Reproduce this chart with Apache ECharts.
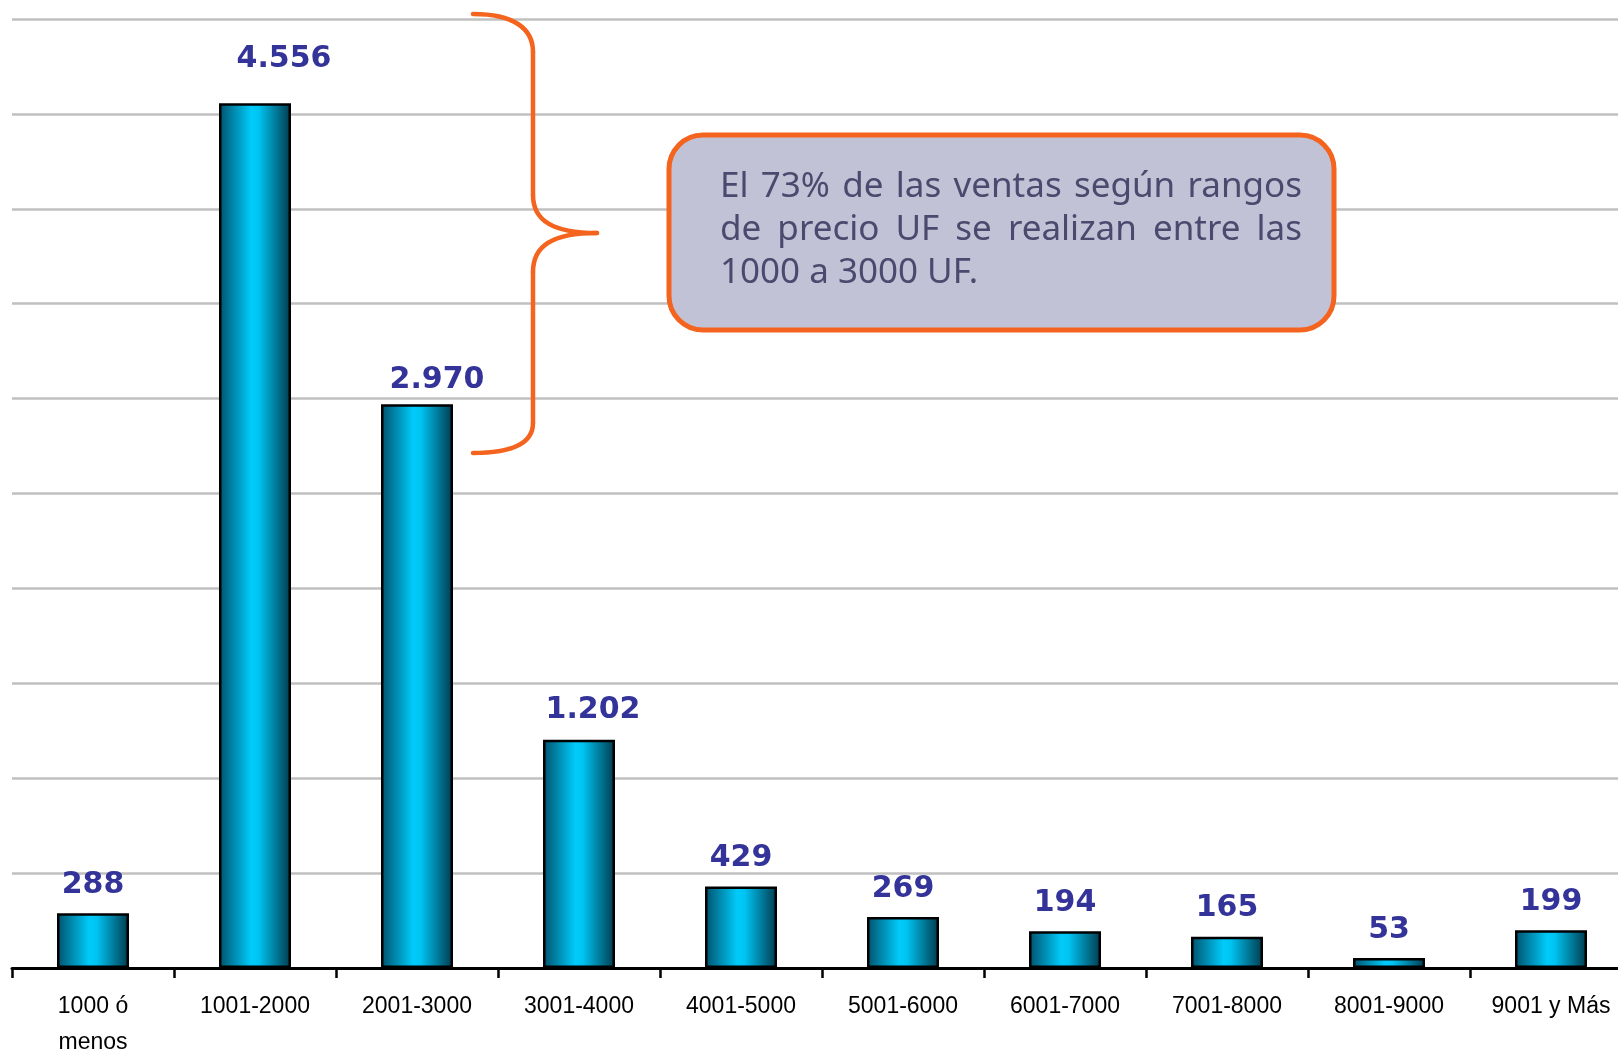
<!DOCTYPE html>
<html>
<head>
<meta charset="utf-8">
<script src="https://cdn.jsdelivr.net/npm/echarts@6/dist/echarts.min.js"></script>
<style>
  html, body { margin: 0; padding: 0; background: #fff; }
  #chart { width: 1618px; height: 1053px; }
</style>
</head>
<body>
<div id="chart"></div>
<script>
// rangos de precio UF
const categories = ['1000 ó\nmenos', '1001-2000', '2001-3000', '3001-4000', '4001-5000',
  '5001-6000', '6001-7000', '7001-8000', '8001-9000', '9001 y Más'];
// unidades vendidas por rango
const ventas = [288, 4556, 2970, 1202, 429, 269, 194, 165, 53, 199];
const yMin = 0;
const yMax = 5000;
const yStep = 500;
const calloutLines = [
  'El 73% de las ventas según rangos',
  'de precio UF se realizan entre las',
  '1000 a 3000 UF.'
];

const orange = '#f4641f';
const textFont = '35px "Noto Sans"';
// excel pushed the 4-digit labels a bit to the right
const labelShift = { 1: [29, 3], 2: [20, 4], 3: [14, -2] };

function fmtMiles(v) {
  return String(v).replace(/\B(?=(\d{3})+(?!\d))/g, '.');
}

// justified text for the callout, one text element per word
function calloutText() {
  const ctx = document.createElement('canvas').getContext('2d');
  ctx.font = textFont;
  const left = 720, right = 1302, y0 = 187, lh = 43;
  const out = [];
  calloutLines.forEach((line, i) => {
    const words = line.split(' ');
    const last = i === calloutLines.length - 1;
    const widths = words.map(w => ctx.measureText(w).width);
    const sum = widths.reduce((a, b) => a + b, 0);
    const gap = last ? ctx.measureText(' ').width : (right - left - sum) / (words.length - 1);
    let x = left;
    words.forEach((w, j) => {
      out.push({
        type: 'text',
        x: x,
        y: y0 + i * lh,
        z: 12,
        style: { text: w, font: textFont, fill: '#4a4a6e', textAlign: 'left', textVerticalAlign: 'middle' }
      });
      x += widths[j] + gap;
    });
  });
  return out;
}

// the curly brace next to the first bars
function brace() {
  const st = { fill: null, stroke: orange, lineWidth: 4.5, lineCap: 'round' };
  const curve = (x1, y1, cpx1, cpy1, cpx2, cpy2, x2, y2) =>
    ({ type: 'bezierCurve', z: 10, shape: { x1, y1, cpx1, cpy1, cpx2, cpy2, x2, y2 }, style: st });
  const line = (x1, y1, x2, y2) => ({ type: 'line', z: 10, shape: { x1, y1, x2, y2 }, style: st });
  return [
    curve(473, 14, 513, 14, 533, 28, 533, 52),
    line(533, 52, 533, 195),
    curve(533, 195, 533, 220, 552, 233, 597, 233),
    curve(597, 233, 552, 233, 533, 246, 533, 272),
    line(533, 272, 533, 423),
    curve(533, 423, 533, 443, 513, 453, 473, 453)
  ];
}

const chart = echarts.init(document.getElementById('chart'));
const peak = ventas.indexOf(Math.max(...ventas));

chart.setOption({
  animation: false,
  backgroundColor: '#fff',
  grid: { left: 12, top: 19, width: 1620, bottom: 85, outerBoundsMode: 'none', containLabel: false },
  xAxis: {
    type: 'category',
    data: categories,
    axisLine: { lineStyle: { color: '#000', width: 3 } },
    axisTick: { show: true, length: 10, lineStyle: { color: '#000', width: 2.5 } },
    axisLabel: {
      interval: 0,
      color: '#000',
      fontFamily: 'Liberation Sans',
      fontSize: 23,
      lineHeight: 36,
      margin: 21
    }
  },
  yAxis: {
    type: 'value',
    min: yMin,
    max: yMax,
    interval: yStep,
    axisLine: { show: false },
    axisTick: { show: false },
    axisLabel: { show: false },
    splitLine: { lineStyle: { color: '#c0c0c0', width: 2.5 } }
  },
  series: [{
    type: 'bar',
    barWidth: 72,
    data: ventas.map((v, i) => {
      const item = { value: v };
      if (labelShift[i]) item.label = { offset: labelShift[i] };
      if (i === peak) item.label = Object.assign(item.label || {}, { distance: 32 });
      return item;
    }),
    itemStyle: {
      borderColor: '#000',
      borderWidth: 2.5,
      color: {
        type: 'linear', x: 0, y: 0, x2: 1, y2: 0,
        colorStops: [
          { offset: 0, color: '#00516c' },
          { offset: 0.45, color: '#00cbfa' },
          { offset: 0.55, color: '#00c4f2' },
          { offset: 1, color: '#003a4d' }
        ]
      }
    },
    label: {
      show: true,
      position: 'top',
      distance: 13,
      color: '#333399',
      fontFamily: 'DejaVu Sans',
      fontWeight: 'bold',
      fontSize: 30,
      formatter: p => fmtMiles(p.value)
    }
  }],
  graphic: brace().concat([
    {
      type: 'rect',
      z: 10,
      shape: { x: 669, y: 135, width: 665, height: 195, r: 34 },
      style: { fill: '#c1c2d6', stroke: orange, lineWidth: 5 }
    }
  ]).concat(calloutText())
});
</script>
</body>
</html>
